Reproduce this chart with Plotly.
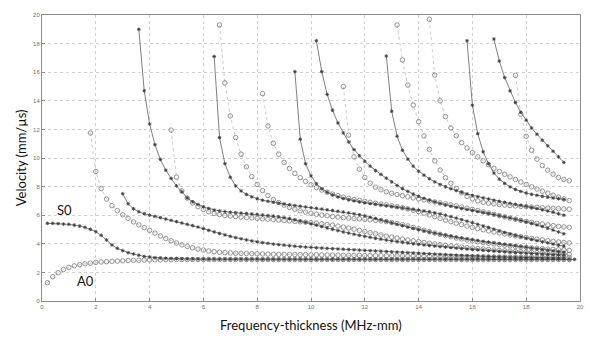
import plotly.graph_objects as go

STEP = 0.2  # frequency-thickness sampling step (MHz-mm)

# ---- symmetric-type modes ("*" markers, solid line): start fd and velocities ----
s0_start = 0.2
s0_vel = [5.43, 5.43, 5.41, 5.38, 5.36, 5.31, 5.24, 5.15, 5.01, 4.85,
          4.59, 4.27, 3.92, 3.68, 3.52, 3.38, 3.29, 3.20, 3.12, 3.08,
          3.03, 3.01, 2.99, 2.97, 2.96, 2.95, 2.94, 2.94, 2.93, 2.93,
          2.92, 2.92, 2.92, 2.92, 2.92, 2.92, 2.92, 2.92, 2.92, 2.92,
          2.91, 2.91, 2.91, 2.91, 2.91, 2.91, 2.91, 2.91, 2.91, 2.91,
          2.91, 2.91, 2.91, 2.91, 2.91, 2.91, 2.91, 2.91, 2.91, 2.91,
          2.91, 2.91, 2.91, 2.91, 2.91, 2.91, 2.91, 2.91, 2.91, 2.91,
          2.91, 2.91, 2.91, 2.91, 2.91, 2.91, 2.91, 2.91, 2.91, 2.91,
          2.91, 2.91, 2.91, 2.91, 2.91, 2.91, 2.91, 2.91, 2.91, 2.91,
          2.91, 2.91, 2.91, 2.91, 2.91, 2.91, 2.91, 2.91, 2.91]

s1_start = 3.0
s1_vel = [7.50, 6.80, 6.45, 6.24, 6.10, 6.00, 5.92, 5.83, 5.73, 5.64,
          5.55, 5.45, 5.36, 5.27, 5.17, 5.06, 4.94, 4.83, 4.72, 4.62,
          4.52, 4.43, 4.35, 4.27, 4.20, 4.14, 4.08, 4.03, 3.98, 3.94,
          3.90, 3.86, 3.83, 3.80, 3.77, 3.75, 3.72, 3.70, 3.68, 3.66,
          3.64, 3.62, 3.60, 3.58, 3.56, 3.54, 3.52, 3.50, 3.48, 3.46,
          3.44, 3.42, 3.40, 3.38, 3.36, 3.34, 3.32, 3.30, 3.28, 3.26,
          3.24, 3.22, 3.20, 3.18, 3.17, 3.15, 3.14, 3.12, 3.11, 3.10,
          3.09, 3.08, 3.07, 3.06, 3.05, 3.04, 3.03, 3.02, 3.02, 3.01,
          3.01, 3.00, 3.00]

s2_start = 3.6
s2_vel = [19.00, 14.70, 12.38, 10.93, 9.90, 9.15, 8.57, 8.05, 7.63, 7.21,
          6.94, 6.75, 6.59, 6.47, 6.36, 6.30, 6.25, 6.21, 6.18, 6.15,
          6.12, 6.09, 6.06, 6.02, 5.98, 5.94, 5.89, 5.83, 5.76, 5.68,
          5.59, 5.50, 5.40, 5.30, 5.20, 5.10, 5.01, 4.92, 4.83, 4.75,
          4.67, 4.59, 4.52, 4.45, 4.38, 4.32, 4.26, 4.20, 4.15, 4.10,
          4.05, 4.00, 3.96, 3.92, 3.88, 3.84, 3.80, 3.77, 3.73, 3.70,
          3.67, 3.64, 3.61, 3.58, 3.55, 3.52, 3.50, 3.47, 3.45, 3.42,
          3.40, 3.38, 3.35, 3.33, 3.31, 3.29, 3.27, 3.25, 3.23, 3.21]

s3_start = 6.4
s3_vel = [17.10, 11.43, 9.60, 8.65, 8.05, 7.70, 7.45, 7.28, 7.15, 7.05,
          6.97, 6.90, 6.84, 6.78, 6.73, 6.68, 6.63, 6.58, 6.53, 6.48,
          6.43, 6.38, 6.33, 6.28, 6.22, 6.16, 6.10, 6.03, 5.95, 5.86,
          5.77, 5.67, 5.57, 5.47, 5.37, 5.27, 5.17, 5.08, 4.99, 4.90,
          4.82, 4.74, 4.67, 4.60, 4.53, 4.46, 4.40, 4.34, 4.28, 4.22,
          4.16, 4.11, 4.06, 4.01, 3.96, 3.91, 3.86, 3.81, 3.76, 3.71,
          3.66, 3.61, 3.56, 3.51, 3.46, 3.41]

s4_start = 9.4
s4_vel = [16.04, 11.31, 9.60, 8.75, 8.20, 7.85, 7.60, 7.42, 7.28, 7.17,
          7.08, 7.00, 6.93, 6.87, 6.81, 6.76, 6.71, 6.66, 6.61, 6.56,
          6.51, 6.46, 6.41, 6.36, 6.30, 6.24, 6.17, 6.09, 6.00, 5.90,
          5.80, 5.69, 5.58, 5.47, 5.36, 5.25, 5.14, 5.02, 4.90, 4.79,
          4.68, 4.58, 4.49, 4.40, 4.31, 4.22, 4.14, 4.06, 3.98, 3.90,
          3.83]

s5_start = 10.2
s5_vel = [18.20, 16.04, 14.45, 13.34, 12.45, 11.75, 11.12, 10.59, 10.15, 9.77,
          9.43, 9.12, 8.85, 8.59, 8.33, 8.08, 7.86, 7.66, 7.48, 7.32,
          7.18, 7.05, 6.93, 6.82, 6.72, 6.63, 6.55, 6.47, 6.40, 6.33,
          6.26, 6.19, 6.12, 6.05, 5.97, 5.89, 5.81, 5.72, 5.63, 5.53,
          5.43, 5.32, 5.21, 5.09, 4.96, 4.83, 4.70]

s6_start = 12.8
s6_vel = [17.13, 13.27, 11.52, 10.54, 9.92, 9.43, 9.08, 8.80, 8.55, 8.33,
          8.15, 7.99, 7.85, 7.72, 7.60, 7.49, 7.39, 7.30, 7.21, 7.13,
          7.05, 6.97, 6.90, 6.83, 6.76, 6.69, 6.62, 6.54, 6.46, 6.38,
          6.29, 6.20, 6.10, 6.00]

s7_start = 15.8
s7_vel = [18.20, 13.69, 11.70, 10.43, 9.60, 8.95, 8.52, 8.22, 7.98, 7.80,
          7.66, 7.55, 7.46, 7.39, 7.32, 7.26, 7.20, 7.15, 7.10]

s8_start = 16.8
s8_vel = [18.32, 16.78, 15.62, 14.69, 13.88, 13.20, 12.64, 12.10, 11.66, 11.24,
          10.85, 10.47, 10.08, 9.69]

# ---- antisymmetric-type modes ("o" markers, dotted line) ----
a0_start = 0.2
a0_vel = [1.28, 1.70, 1.98, 2.20, 2.35, 2.46, 2.54, 2.60, 2.65, 2.70,
          2.73, 2.75, 2.77, 2.79, 2.81, 2.83, 2.84, 2.85, 2.86, 2.87,
          2.88, 2.88, 2.89, 2.89, 2.90, 2.90, 2.90, 2.90, 2.90, 2.90,
          2.90, 2.90, 2.90, 2.90, 2.90, 2.90, 2.90, 2.90, 2.90, 2.90,
          2.90, 2.90, 2.90, 2.90, 2.90, 2.90, 2.90, 2.90, 2.90, 2.90,
          2.90, 2.90, 2.90, 2.90, 2.90, 2.90, 2.90, 2.90, 2.90, 2.90,
          2.90, 2.90, 2.90, 2.90, 2.90, 2.90, 2.90, 2.90, 2.90, 2.90,
          2.90, 2.90, 2.90, 2.90, 2.90, 2.90, 2.90, 2.90, 2.90, 2.90,
          2.90, 2.90, 2.90, 2.90, 2.90, 2.90, 2.90, 2.90, 2.90, 2.90,
          2.90, 2.90, 2.90, 2.90, 2.90, 2.90, 2.90, 2.90]

a1_start = 1.8
a1_vel = [11.75, 9.05, 7.87, 7.13, 6.67, 6.32, 6.03, 5.78, 5.53, 5.32,
          5.13, 4.94, 4.75, 4.55, 4.37, 4.21, 4.06, 3.93, 3.82, 3.72,
          3.63, 3.56, 3.50, 3.45, 3.41, 3.38, 3.36, 3.34, 3.33, 3.32,
          3.31, 3.30, 3.29, 3.28, 3.27, 3.26, 3.26, 3.25, 3.25, 3.24,
          3.24, 3.23, 3.23, 3.22, 3.22, 3.21, 3.21, 3.20, 3.20, 3.19,
          3.19, 3.18, 3.18, 3.17, 3.17, 3.16, 3.16, 3.15, 3.15, 3.14,
          3.14, 3.13, 3.13, 3.12, 3.12, 3.11, 3.11, 3.10, 3.10, 3.10,
          3.09, 3.09, 3.09, 3.08, 3.08, 3.08, 3.07, 3.07, 3.07, 3.07,
          3.06, 3.06, 3.06, 3.06, 3.06, 3.05, 3.05, 3.05, 3.05, 3.05]

a2_start = 4.8
a2_vel = [11.95, 8.66, 7.70, 7.20, 6.86, 6.60, 6.40, 6.24, 6.12, 6.04,
          5.98, 5.94, 5.90, 5.87, 5.84, 5.81, 5.78, 5.75, 5.72, 5.69,
          5.66, 5.63, 5.60, 5.57, 5.54, 5.51, 5.48, 5.44, 5.40, 5.35,
          5.30, 5.24, 5.17, 5.10, 5.02, 4.94, 4.86, 4.78, 4.70, 4.62,
          4.54, 4.47, 4.40, 4.33, 4.27, 4.21, 4.15, 4.09, 4.04, 3.99,
          3.94, 3.89, 3.85, 3.81, 3.77, 3.73, 3.69, 3.66, 3.63, 3.60,
          3.57, 3.54, 3.51, 3.49, 3.46, 3.44, 3.42, 3.40, 3.38, 3.36,
          3.34, 3.32, 3.30, 3.29, 3.27]

a3_start = 6.6
a3_vel = [19.30, 15.25, 12.94, 11.43, 10.27, 9.38, 8.70, 8.15, 7.72, 7.38,
          7.10, 6.88, 6.70, 6.55, 6.42, 6.31, 6.22, 6.14, 6.07, 6.01,
          5.96, 5.91, 5.87, 5.83, 5.80, 5.77, 5.74, 5.71, 5.68, 5.64,
          5.60, 5.55, 5.49, 5.42, 5.34, 5.25, 5.15, 5.05, 4.95, 4.85,
          4.75, 4.66, 4.57, 4.49, 4.41, 4.34, 4.27, 4.21, 4.15, 4.09,
          4.04, 3.99, 3.94, 3.90, 3.86, 3.82, 3.78, 3.75, 3.72, 3.69,
          3.66, 3.63, 3.61, 3.58, 3.56, 3.54]

a4_start = 8.2
a4_vel = [14.50, 12.24, 11.03, 10.27, 9.69, 9.27, 8.92, 8.62, 8.36, 8.13,
          7.93, 7.76, 7.61, 7.48, 7.37, 7.27, 7.18, 7.10, 7.03, 6.96,
          6.90, 6.84, 6.78, 6.72, 6.66, 6.59, 6.52, 6.44, 6.35, 6.25,
          6.14, 6.02, 5.90, 5.78, 5.66, 5.55, 5.44, 5.34, 5.24, 5.15,
          5.06, 4.98, 4.90, 4.83, 4.76, 4.69, 4.62, 4.56, 4.50, 4.44,
          4.38, 4.32, 4.27, 4.22, 4.17, 4.13, 4.09, 4.06]

a5_start = 11.2
a5_vel = [15.00, 11.60, 10.08, 9.22, 8.64, 8.24, 7.96, 7.78, 7.64, 7.53,
          7.44, 7.36, 7.28, 7.21, 7.14, 7.07, 7.00, 6.93, 6.86, 6.79,
          6.72, 6.65, 6.57, 6.49, 6.41, 6.33, 6.24, 6.15, 6.06, 5.97,
          5.88, 5.80, 5.72, 5.64, 5.57, 5.50, 5.44, 5.38, 5.32, 5.27,
          5.22, 5.18, 5.15]

a6_start = 13.2
a6_vel = [19.30, 16.85, 15.10, 13.70, 12.54, 11.54, 10.60, 9.80, 9.16, 8.62,
          8.23, 7.87, 7.56, 7.32, 7.14, 7.00, 6.91, 6.84, 6.79, 6.75,
          6.71, 6.68, 6.65, 6.62, 6.60, 6.57, 6.55, 6.52, 6.50, 6.48,
          6.46, 6.44, 6.42]

a7_start = 14.4
a7_vel = [19.70, 15.80, 14.00, 12.90, 12.10, 11.56, 11.07, 10.70, 10.37, 10.08,
          9.80, 9.53, 9.28, 9.06, 8.86, 8.68, 8.50, 8.32, 8.15, 7.98,
          7.83, 7.68, 7.54, 7.40, 7.27, 7.14, 7.02]

a8_start = 17.6
a8_vel = [15.78, 13.06, 11.52, 10.54, 9.92, 9.47, 9.15, 8.87, 8.64, 8.50, 8.41]

sym_modes = [(s0_start, s0_vel), (s1_start, s1_vel), (s2_start, s2_vel),
             (s3_start, s3_vel), (s4_start, s4_vel), (s5_start, s5_vel),
             (s6_start, s6_vel), (s7_start, s7_vel), (s8_start, s8_vel)]
anti_modes = [(a0_start, a0_vel), (a1_start, a1_vel), (a2_start, a2_vel),
              (a3_start, a3_vel), (a4_start, a4_vel), (a5_start, a5_vel),
              (a6_start, a6_vel), (a7_start, a7_vel), (a8_start, a8_vel)]

axis_ticks = [0, 2, 4, 6, 8, 10, 12, 14, 16, 18, 20]


def fd_axis(start, vel):
    return [round(start + STEP * i, 1) for i in range(len(vel))]


fig = go.Figure()

for start, vel in anti_modes:
    fig.add_trace(go.Scatter(
        x=fd_axis(start, vel), y=vel, mode="lines+markers",
        line=dict(color="#bdbdbd", width=0.8, dash="dot"),
        marker=dict(symbol="circle-open", size=4.5, color="#7a7a7a",
                    line=dict(width=0.8, color="#7a7a7a")),
        showlegend=False, hoverinfo="skip"))

for start, vel in sym_modes:
    fig.add_trace(go.Scatter(
        x=fd_axis(start, vel), y=vel, mode="lines+markers",
        line=dict(color="#606060", width=0.8),
        marker=dict(symbol="asterisk-open", size=3, color="#404040",
                    line=dict(width=0.9, color="#404040")),
        showlegend=False, hoverinfo="skip"))

axis_common = dict(
    range=[0, 20], tickvals=axis_ticks, ticktext=[str(t) for t in axis_ticks],
    showgrid=True, gridcolor="#d2d2d2", griddash="dot", gridwidth=1,
    showline=True, linecolor="#8c8c8c", linewidth=1, mirror=True,
    ticks="inside", ticklen=3, tickcolor="#8c8c8c",
    tickfont=dict(size=6, color="#707070", family="Arial"),
    zeroline=False, fixedrange=True,
)

title_font = dict(size=13, family="Lato", color="#111111")

fig.update_layout(
    width=589, height=339,
    margin=dict(l=42, r=5, t=15, b=38),
    paper_bgcolor="white", plot_bgcolor="white",
    xaxis=dict(**axis_common),
    yaxis=dict(**axis_common),
    font=dict(family="Lato", color="#111111"),
    annotations=[
        dict(x=0.5, y=-0.05, xref="paper", yref="paper", yanchor="top",
             text="Frequency-thickness (MHz-mm)", showarrow=False,
             font=title_font),
        dict(x=-0.02, y=0.5, xref="paper", yref="paper", xanchor="right",
             text="Velocity (mm/µs)", showarrow=False, textangle=-90,
             font=title_font),
        dict(x=0.85, y=6.35, xref="x", yref="y", text="S0", showarrow=False,
             font=title_font),
        dict(x=1.6, y=1.4, xref="x", yref="y", text="A0", showarrow=False,
             font=title_font),
    ],
)

fig.write_html("out.html")
